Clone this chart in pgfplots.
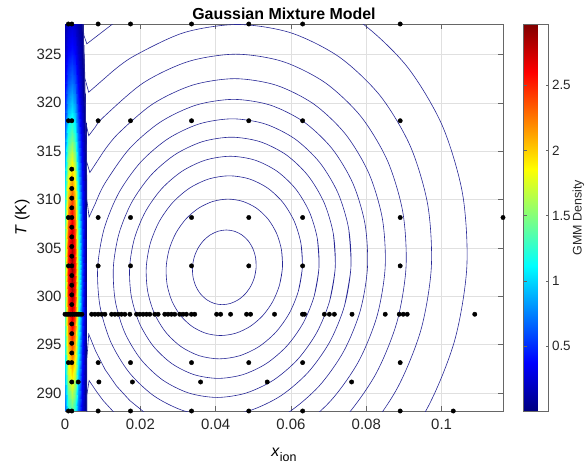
\documentclass[border=0pt]{standalone}
\usepackage{fontspec}
\setmainfont{Liberation Sans}
\usepackage{pgfplots}
\pgfplotsset{compat=1.18}
\definecolor{cline}{RGB}{40,40,150}
\begin{document}
\begin{tikzpicture}
\path[use as bounding box] (-65bp,-59bp) rectangle (522bp,411bp);
\begin{axis}[
 at={(0,0)}, anchor=south west,
 scale only axis, width=438bp, height=387bp,
 xmin=0, xmax=0.1163, ymin=288.15, ymax=328.15,
 xtick={0,0.02,0.04,0.06,0.08,0.1},
 xticklabels={0,0.02,0.04,0.06,0.08,0.1},
 ytick={290,295,300,305,310,315,320,325},
 yticklabels={290,295,300,305,310,315,320,325},
 /pgf/number format/assume math mode=true,
 tick label style={font=\fontsize{15}{18}\selectfont, text=black!85},
 xticklabel style={yshift=-5bp},
 grid=major,
 major grid style={draw=black!12, line width=0.5bp},
 axis line style={draw=black!60, line width=0.7bp},
 tick style={draw=black!60, line width=0.6bp},
 tick align=inside, major tick length=5bp,
 title={Gaussian Mixture Model},
 title style={font=\bfseries\fontsize{16}{19}\selectfont, yshift=-5bp},
 xlabel={\textit{x}\raisebox{-5bp}{\fontsize{12.5}{15}\selectfont ion}},
 xlabel style={yshift=-11bp},
 ylabel={\textit{T} (K)},
 label style={font=\fontsize{16}{19}\selectfont},
 colormap/jet,
 point meta min=0.003, point meta max=2.97,
 colorbar,
 colorbar style={
   at={(parent axis.north east)}, anchor=north west, xshift=12bp,
   scale only axis, width=25bp, height=387bp,
   ytick={0.5,1,1.5,2,2.5}, yticklabels={0.5,1,1.5,2,2.5},
   yticklabel style={font=\fontsize{13.5}{16}\selectfont, text=black!85},
   yticklabel pos=right,
   ylabel={GMM Density},
   every axis y label/.style={at={(rel axis cs:1,0.5)}, xshift=30bp, rotate=90, anchor=center, font=\fontsize{12.5}{15}\selectfont, text=black!85},
   axis line style={draw=black!60, line width=0.6bp},
   tick style={draw=black!60, line width=0.5bp},
   tick align=inside, major tick length=3bp,
 },
]
% narrow component (filled strip)
\addplot[surf, shader=interp, mesh/cols=8, point meta=explicit] table[x index=0, y index=1, meta index=2] {
0 288.15 0.687
0.00093 288.15 1.181
0.0018 288.15 1.373
0.00267 288.15 1.181
0.00354 288.15 0.687
0.00441 288.15 0.275
0.00528 288.15 0.077
0.0057 288.15 0.04
0 291.5 0.941
0.00093 291.5 1.619
0.0018 291.5 1.882
0.00267 291.5 1.619
0.00354 291.5 0.941
0.00441 291.5 0.376
0.00528 291.5 0.105
0.0057 291.5 0.04
0 294.5 1.163
0.00093 294.5 2.0
0.0018 294.5 2.325
0.00267 294.5 2.0
0.00354 294.5 1.163
0.00441 294.5 0.465
0.00528 294.5 0.130
0.0057 294.5 0.04
0 297.5 1.344
0.00093 297.5 2.312
0.0018 297.5 2.688
0.00267 297.5 2.312
0.00354 297.5 1.344
0.00441 297.5 0.538
0.00528 297.5 0.151
0.0057 297.5 0.04
0 300.5 1.453
0.00093 300.5 2.499
0.0018 300.5 2.906
0.00267 300.5 2.499
0.00354 300.5 1.453
0.00441 300.5 0.581
0.00528 300.5 0.163
0.0057 300.5 0.04
0 302.5 1.475
0.00093 302.5 2.537
0.0018 302.5 2.95
0.00267 302.5 2.537
0.00354 302.5 1.475
0.00441 302.5 0.59
0.00528 302.5 0.165
0.0057 302.5 0.04
0 304.5 1.453
0.00093 304.5 2.499
0.0018 304.5 2.906
0.00267 304.5 2.499
0.00354 304.5 1.453
0.00441 304.5 0.581
0.00528 304.5 0.163
0.0057 304.5 0.04
0 307.5 1.344
0.00093 307.5 2.312
0.0018 307.5 2.688
0.00267 307.5 2.312
0.00354 307.5 1.344
0.00441 307.5 0.538
0.00528 307.5 0.151
0.0057 307.5 0.04
0 310.5 1.163
0.00093 310.5 2.0
0.0018 310.5 2.325
0.00267 310.5 2.0
0.00354 310.5 1.163
0.00441 310.5 0.465
0.00528 310.5 0.130
0.0057 310.5 0.04
0 313.5 0.941
0.00093 313.5 1.619
0.0018 313.5 1.882
0.00267 313.5 1.619
0.00354 313.5 0.941
0.00441 313.5 0.376
0.00528 313.5 0.105
0.0056 313.5 0.04
0 316.5 0.712
0.00093 316.5 1.225
0.0018 316.5 1.424
0.00267 316.5 1.225
0.00354 316.5 0.712
0.00441 316.5 0.285
0.00528 316.5 0.080
0.0055 316.5 0.04
0 319.5 0.504
0.00093 319.5 0.867
0.0018 319.5 1.008
0.00267 319.5 0.867
0.00354 319.5 0.504
0.00441 319.5 0.202
0.00510 319.5 0.07
0.0053 319.5 0.04
0 322.5 0.334
0.00093 322.5 0.574
0.0018 322.5 0.667
0.00267 322.5 0.574
0.00354 322.5 0.334
0.00441 322.5 0.133
0.0049 322.5 0.06
0.0051 322.5 0.04
0 325.5 0.207
0.00093 325.5 0.355
0.0018 325.5 0.413
0.00267 325.5 0.355
0.00354 325.5 0.207
0.00441 325.5 0.083
0.0047 325.5 0.05
0.0049 325.5 0.04
0 328.15 0.128
0.00093 328.15 0.220
0.0018 328.15 0.256
0.00267 328.15 0.220
0.00354 328.15 0.128
0.00441 328.15 0.051
0.0046 328.15 0.045
0.0047 328.15 0.04
};
% wide component contours (closed rings)
\addplot[cline, line width=0.6bp, smooth] coordinates {
(0.050325,302.001)(0.050753,303)(0.050605,303.999)(0.04989,304.93)(0.048659,305.729)(0.046995,306.343)(0.04501,306.728)(0.04284,306.86)(0.040634,306.728)(0.038541,306.343)(0.036705,305.729)(0.03525,304.93)(0.034275,303.999)(0.033847,303)(0.033995,302.001)(0.03471,301.07)(0.035941,300.271)(0.037605,299.657)(0.03959,299.272)(0.04176,299.14)(0.043966,299.272)(0.046059,299.657)(0.047895,300.271)(0.04935,301.07)(0.050325,302.001)(0.050753,303)(0.050605,303.999)};
\addplot[cline, line width=0.6bp, smooth] coordinates {
(0.056959,301.175)(0.05774,303)(0.057469,304.825)(0.056165,306.525)(0.053916,307.985)(0.050875,309.105)(0.047249,309.81)(0.043287,310.05)(0.039257,309.81)(0.035435,309.105)(0.03208,307.985)(0.029423,306.525)(0.027641,304.825)(0.02686,303)(0.027131,301.175)(0.028435,299.475)(0.030684,298.015)(0.033725,296.895)(0.037351,296.19)(0.041313,295.95)(0.045343,296.19)(0.049165,296.895)(0.05252,298.015)(0.055177,299.475)(0.056959,301.175)(0.05774,303)(0.057469,304.825)};
\addplot[cline, line width=0.6bp, smooth] coordinates {
(0.06197,300.552)(0.06302,303)(0.062656,305.448)(0.060906,307.73)(0.057887,309.689)(0.053807,311.192)(0.048941,312.137)(0.043624,312.46)(0.038217,312.137)(0.033087,311.192)(0.028585,309.689)(0.025018,307.73)(0.02263,305.448)(0.02158,303)(0.021944,300.552)(0.023694,298.27)(0.026713,296.311)(0.030793,294.808)(0.035659,293.863)(0.040976,293.54)(0.046383,293.863)(0.051513,294.808)(0.056015,296.311)(0.059582,298.27)(0.06197,300.552)(0.06302,303)(0.062656,305.448)};
\addplot[cline, line width=0.6bp, smooth] coordinates {
(0.066167,300.029)(0.06744,303)(0.066999,305.971)(0.064875,308.74)(0.061213,311.118)(0.056262,312.942)(0.050358,314.089)(0.043907,314.48)(0.037346,314.089)(0.031122,312.942)(0.025659,311.118)(0.021333,308.74)(0.018433,305.971)(0.01716,303)(0.017601,300.029)(0.019725,297.26)(0.023387,294.882)(0.028338,293.058)(0.034242,291.911)(0.040693,291.52)(0.047254,291.911)(0.053478,293.058)(0.058941,294.882)(0.063267,297.26)(0.066167,300.029)(0.06744,303)(0.066999,305.971)};
\addplot[cline, line width=0.6bp, smooth] coordinates {
(0.070269,299.519)(0.07176,303)(0.071243,306.481)(0.068754,309.725)(0.064462,312.51)(0.058661,314.648)(0.051743,315.991)(0.044183,316.45)(0.036495,315.991)(0.029201,314.648)(0.0228,312.51)(0.01773,309.725)(0.014331,306.481)(0.01284,303)(0.013357,299.519)(0.015846,296.275)(0.020138,293.49)(0.025939,291.352)(0.032857,290.009)(0.040417,289.55)(0.048105,290.009)(0.055399,291.352)(0.0618,293.49)(0.06687,296.275)(0.070269,299.519)(0.07176,303)(0.071243,306.481)};
\addplot[cline, line width=0.6bp, smooth] coordinates {
(0.074218,299.027)(0.07592,303)(0.07533,306.973)(0.07249,310.675)(0.067593,313.854)(0.060971,316.293)(0.053077,317.827)(0.044449,318.35)(0.035675,317.827)(0.027351,316.293)(0.020047,313.854)(0.01426,310.675)(0.010382,306.973)(0.00868,303)(0.00927,299.027)(0.01211,295.325)(0.017007,292.146)(0.023629,289.707)(0.031523,288.173)(0.040151,287.65)(0.048925,288.173)(0.057249,289.707)(0.064553,292.146)(0.07034,295.325)(0.074218,299.027)(0.07592,303)(0.07533,306.973)};
% outer contours merging with the strip
\addplot[cline, line width=0.6bp, smooth] coordinates {
(0.049793,286.232)(0.059206,287.966)(0.067466,290.725)(0.07401,294.32)(0.078395,298.507)(0.08032,303)(0.079653,307.493)(0.07644,311.68)(0.070902,315.275)(0.063414,318.034)(0.054487,319.768)(0.04473,320.36)(0.034807,319.768)(0.025394,318.034)(0.017134,315.275)(0.01059,311.68)(0.0081,309.64)};
\addplot[cline, line width=0.6bp] coordinates {
(0.0081,309.64)(0.0064,308.2)(0.0058,310)(0.0058,312)(0.0057,313.5)(0.0056,316.5)(0.0054,319.5)(0.0052,322.5)(0.0050,325.5)(0.0048,328.15)(0.0047,329.5)};
\addplot[cline, line width=0.6bp] coordinates {
(0.0058,286)(0.0058,293.5)(0.0063,296.1)(0.00816,294.32)(0.010656,292.43)(0.0137,290.725)(0.017225,289.227)(0.0212,287.966)(0.025,286.5)};
\addplot[cline, line width=0.6bp, smooth] coordinates {
(0.050716,284.165)(0.061291,286.113)(0.07057,289.212)(0.077922,293.25)(0.082847,297.953)(0.08501,303)(0.084261,308.047)(0.080652,312.75)(0.07443,316.788)(0.066019,319.887)(0.05599,321.835)(0.04503,322.5)(0.033884,321.835)(0.023309,319.887)(0.01403,316.788)(0.010076,314.87)};
\addplot[cline, line width=0.6bp] coordinates {
(0.010076,314.87)(0.0066,312.8)(0.0057,314)(0.0056,316.5)(0.0054,319.5)(0.0052,322.5)(0.0050,325.5)(0.0048,328.15)(0.0047,329.5)};
\addplot[cline, line width=0.6bp] coordinates {
(0.0058,286)(0.0058,289.8)(0.0064,291.3)(0.0083,290.2)(0.01017,289.212)(0.014132,287.53)(0.018,286)};
\addplot[cline, line width=0.6bp, smooth] coordinates {
(0.063754,283.922)(0.074237,287.423)(0.082543,291.985)(0.088107,297.299)(0.09055,303)(0.089703,308.701)(0.085627,314.015)(0.078599,318.577)(0.069096,322.078)(0.057766,324.279)(0.045384,325.03)(0.032792,324.279)(0.020846,322.078)(0.010363,318.577)(0.0081,317.53)};
\addplot[cline, line width=0.6bp] coordinates {
(0.0081,317.53)(0.0063,316.6)(0.0055,318)(0.0054,319.5)(0.0052,322.5)(0.0050,325.5)(0.0048,328.15)(0.0047,329.5)};
\addplot[cline, line width=0.6bp, smooth] coordinates {
(0.066742,281.263)(0.078684,285.252)(0.088147,290.45)(0.094487,296.504)(0.09727,303)(0.096305,309.496)(0.091661,315.55)(0.083654,320.748)(0.072828,324.737)(0.05992,327.244)(0.045814,328.1)(0.031468,327.244)(0.017858,324.737)(0.011622,322.91)};
\addplot[cline, line width=0.6bp] coordinates {
(0.011622,322.91)(0.0063,321.1)(0.0053,322.5)(0.0050,325.5)(0.0048,328.15)(0.0047,329.5)};
\addplot[cline, line width=0.6bp, smooth] coordinates {
(0.08492,282.211)(0.096004,288.3)(0.103429,295.391)(0.10669,303)(0.105559,310.609)(0.10012,317.7)(0.09074,323.789)(0.07806,328.46)(0.06294,331.398)};
\addplot[cline, line width=0.6bp] coordinates {
(0.029612,331.398)(0.01367,328.46)(0.0058,326.1)(0.0050,327)(0.0048,328.15)(0.0047,329.5)};
% data points
\addplot[only marks, mark=*, mark size=2.2bp, black] table {
0.0009 328.15
0.0018 328.15
0.0088 328.15
0.0174 328.15
0.0336 328.15
0.0488 328.15
0.0631 328.15
0.0890 328.15
0.0009 318.15
0.0018 318.15
0.0088 318.15
0.0174 318.15
0.0336 318.15
0.0488 318.15
0.0631 318.15
0.0890 318.15
0.0009 308.15
0.0018 308.15
0.0088 308.15
0.0174 308.15
0.0336 308.15
0.0488 308.15
0.0631 308.15
0.0890 308.15
0.1163 308.15
0.0009 303.15
0.0018 303.15
0.0088 303.15
0.0174 303.15
0.0336 303.15
0.0488 303.15
0.0631 303.15
0.0890 303.15
0.0009 293.15
0.0018 293.15
0.0088 293.15
0.0174 293.15
0.0336 293.15
0.0488 293.15
0.0631 293.15
0.0890 293.15
0.0009 288.15
0.0018 288.15
0.0088 288.15
0.0174 288.15
0.0336 288.15
0.0488 288.15
0.0631 288.15
0.0890 288.15
0.1031 288.15
0.0018 291.15
0.0035 291.15
0.0090 291.15
0.0179 291.15
0.0360 291.15
0.0537 291.15
0.0761 291.15
0 298.15
0.0005 298.15
0.0010 298.15
0.0015 298.15
0.0020 298.15
0.0025 298.15
0.0030 298.15
0.0035 298.15
0.0040 298.15
0.0045 298.15
0.00707 298.15
0.00795 298.15
0.00882 298.15
0.00972 298.15
0.0106 298.15
0.01237 298.15
0.01325 298.15
0.01412 298.15
0.0150 298.15
0.0159 298.15
0.01722 298.15
0.0190 298.15
0.01987 298.15
0.02074 298.15
0.02164 298.15
0.02252 298.15
0.02384 298.15
0.02472 298.15
0.0265 298.15
0.02736 298.15
0.02826 298.15
0.02914 298.15
0.03046 298.15
0.03134 298.15
0.03224 298.15
0.03356 298.15
0.03444 298.15
0.04026 298.15
0.04132 298.15
0.04397 298.15
0.04821 298.15
0.04927 298.15
0.05563 298.15
0.06305 298.15
0.06358 298.15
0.06887 298.15
0.0702 298.15
0.07152 298.15
0.07621 298.15
0.08503 298.15
0.08874 298.15
0.0898 298.15
0.09086 298.15
0.1088 298.15
0.0018 294.15
0.0018 295.15
0.0018 296.15
0.0018 297.15
0.0018 299.15
0.0018 300.15
0.0018 301.15
0.0018 302.15
0.0018 304.15
0.0018 305.15
0.0018 306.15
0.0018 307.15
0.0018 309.15
0.0018 310.15
0.0018 311.15
0.0018 312.15
0.0018 313.15
};
\end{axis}
\end{tikzpicture}
\end{document}
